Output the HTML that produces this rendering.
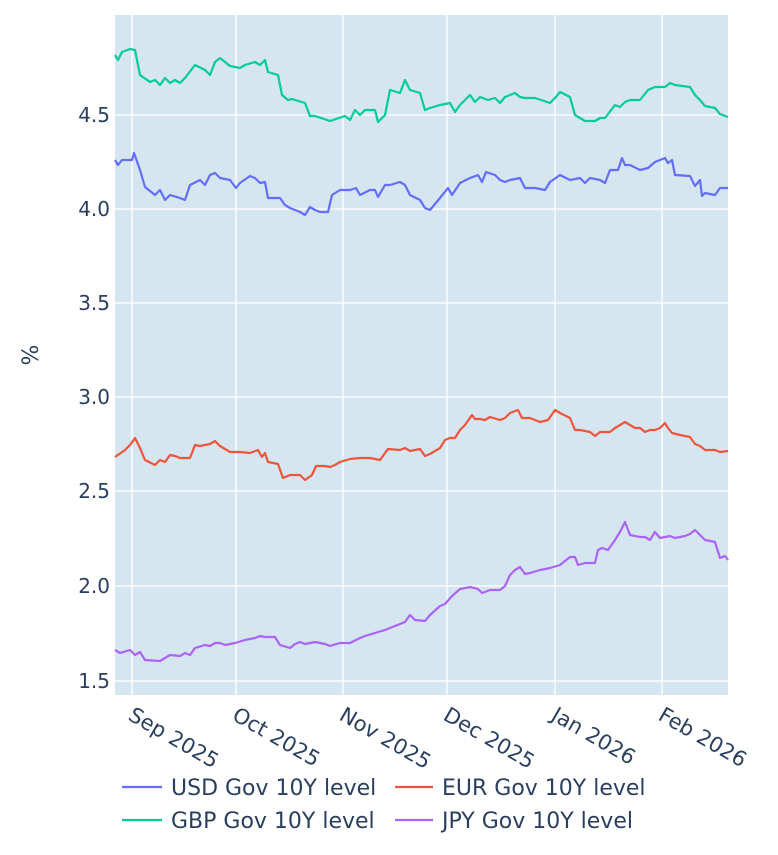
<!DOCTYPE html>
<html><head><meta charset="utf-8"><style>body{margin:0;background:#fff}</style></head>
<body>
<svg width="778" height="850" xmlns="http://www.w3.org/2000/svg" font-family="'DejaVu Sans','Liberation Sans',sans-serif">
<rect x="115" y="15" width="613" height="680" fill="#d6e6f1"/>
<g stroke="#fff" stroke-width="1.3">
<line x1="115" x2="728" y1="115" y2="115"/><line x1="115" x2="728" y1="209" y2="209"/><line x1="115" x2="728" y1="303" y2="303"/><line x1="115" x2="728" y1="397" y2="397"/><line x1="115" x2="728" y1="491" y2="491"/><line x1="115" x2="728" y1="586" y2="586"/><line x1="115" x2="728" y1="681" y2="681"/>
<line x1="132" x2="132" y1="15" y2="695"/><line x1="236" x2="236" y1="15" y2="695"/><line x1="343" x2="343" y1="15" y2="695"/><line x1="447" x2="447" y1="15" y2="695"/><line x1="555" x2="555" y1="15" y2="695"/><line x1="662" x2="662" y1="15" y2="695"/>
</g>
<g fill="#2a3f5f" font-size="20" text-anchor="end">
<text x="110" y="122">4.5</text><text x="110" y="216">4.0</text><text x="110" y="310">3.5</text><text x="110" y="404">3.0</text><text x="110" y="498">2.5</text><text x="110" y="593">2.0</text><text x="110" y="688">1.5</text>
</g>
<text transform="translate(38,355) rotate(-90)" fill="#2a3f5f" font-size="22" text-anchor="middle">%</text>
<g fill="#2a3f5f" font-size="21">
<text transform="translate(127,719) rotate(30)">Sep 2025</text>
<text transform="translate(231,719) rotate(30)">Oct 2025</text>
<text transform="translate(338,719) rotate(30)">Nov 2025</text>
<text transform="translate(442,719) rotate(30)">Dec 2025</text>
<text transform="translate(550,719) rotate(30)">Jan 2026</text>
<text transform="translate(657,719) rotate(30)">Feb 2026</text>
</g>
<g fill="none" stroke-width="2.2" stroke-linejoin="round">
<polyline stroke="#636efa" points="115,160 118,165 122,160 132,160 134,153 140,170 145,187 155,195 160,190 165,200 170,195 180,198 185,200 190,185 200,180 205,185 210,175 215,173 220,178 230,180 236,188 240,183 250,176 255,178 260,183 265,182 268,198 275,198 280,198 285,205 290,208 300,212 305,215 310,207 315,210 320,212 328,212 332,195 340,190 350,190 356,188 360,195 370,190 375,190 378,197 385,185 390,185 400,182 405,185 410,195 420,200 425,208 430,210 440,198 448,188 452,195 460,183 470,178 478,175 482,182 486,172 495,175 500,180 505,182 510,180 520,178 525,188 535,188 545,190 550,182 560,175 570,180 580,178 585,183 590,178 600,180 605,183 610,170 618,170 622,158 625,165 630,165 640,170 648,168 655,162 665,158 668,163 672,160 675,175 690,176 695,186 700,180 702,196 705,193 715,195 720,188 728,188"/>
<polyline stroke="#00cc96" points="115,55 118,60 122,52 130,49 135,50 140,75 150,82 155,80 160,85 165,78 170,83 175,80 180,83 185,78 195,65 205,70 210,75 215,62 220,58 230,66 240,68 245,65 255,62 260,65 265,60 268,72 278,75 282,95 288,100 292,99 305,103 310,116 315,116 330,121 345,116 350,120 355,110 360,115 365,110 375,110 378,122 385,115 390,90 400,93 405,80 410,90 420,93 425,110 430,108 440,105 450,103 455,112 460,105 470,95 475,102 480,97 488,100 495,98 500,103 505,97 515,93 520,97 525,98 535,98 550,103 555,98 560,92 570,97 575,115 580,118 585,121 595,121 600,118 605,118 615,105 620,107 625,102 630,100 640,100 648,90 655,87 665,87 670,83 675,85 690,87 695,95 700,100 705,106 715,108 720,114 728,117"/>
<polyline stroke="#ef553b" points="115,457 125,450 130,445 135,438 140,448 145,460 155,465 160,460 165,462 170,455 175,456 180,458 190,458 195,445 200,446 210,444 215,441 220,446 230,452 240,452 250,453 258,450 262,457 265,453 268,462 278,464 283,478 290,475 300,475 305,480 312,475 316,466 325,466 330,467 335,465 340,462 350,459 360,458 370,458 380,460 388,449 400,450 405,448 410,451 420,449 425,456 430,454 440,448 445,440 450,438 455,438 460,430 465,425 472,415 475,419 480,419 485,420 490,417 500,420 505,418 510,413 518,410 522,418 530,418 540,422 548,420 555,410 560,413 570,418 575,430 580,430 590,432 595,436 600,432 610,432 615,428 620,425 625,422 630,425 635,428 640,428 645,432 650,430 655,430 660,428 665,423 668,428 672,433 680,435 690,437 695,444 700,446 705,450 715,450 720,452 728,451"/>
<polyline stroke="#ab63fa" points="115,650 120,653 130,650 135,655 140,652 145,660 160,661 165,658 170,655 180,656 185,653 190,655 195,648 205,645 210,646 215,643 220,643 225,645 235,643 245,640 255,638 260,636 265,637 275,637 280,645 290,648 295,644 300,642 305,644 315,642 325,644 330,646 340,643 350,643 360,638 365,636 375,633 385,630 395,626 405,622 410,615 415,620 425,621 430,615 440,606 445,604 452,596 460,589 470,587 478,589 482,593 490,590 500,590 505,586 510,575 515,570 520,567 525,574 530,573 540,570 550,568 560,565 570,557 575,557 578,565 585,563 595,563 598,550 602,548 608,550 615,540 620,532 625,522 630,535 640,537 645,537 650,540 655,532 660,538 670,536 675,538 685,536 690,534 695,530 705,540 715,542 720,558 725,556 728,560"/>
</g>
<g stroke-width="2.2"><line x1="122" x2="162" y1="787" y2="787" stroke="#636efa"/><line x1="395" x2="433" y1="787" y2="787" stroke="#ef553b"/><line x1="122" x2="162" y1="820" y2="820" stroke="#00cc96"/><line x1="395" x2="433" y1="820" y2="820" stroke="#ab63fa"/></g>
<g fill="#2a3f5f" font-size="22"><text x="171" y="795">USD Gov 10Y level</text><text x="442" y="795">EUR Gov 10Y level</text><text x="171" y="828">GBP Gov 10Y level</text><text x="442" y="828">JPY Gov 10Y level</text></g>
</svg>
</body></html>
